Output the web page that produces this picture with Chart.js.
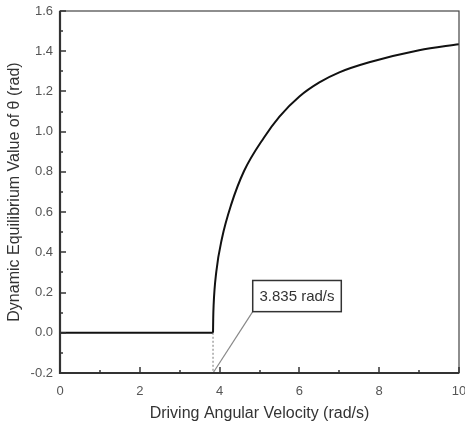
<!DOCTYPE html>
<html>
<head>
<meta charset="utf-8">
<script src="https://cdn.jsdelivr.net/npm/chart.js@4/dist/chart.umd.min.js"></script>
<style>
	html, body { margin: 0; padding: 0; background: #fff; }
	#wrap { width: 465px; height: 430px; }
</style>
</head>
<body>
<div id="wrap"><canvas id="thetaChart" width="465" height="430"></canvas></div>
<script>
// critical driving speed
const criticalOmega = 3.835;

// theta stays at zero below the critical speed
const flatOmega = [0, 3.835];
const flatTheta = [0, 0];

// theta above the critical speed
const curveOmega = [3.835, 3.84, 3.85, 3.917, 4.06, 4.29, 4.61, 5.11, 5.5, 6.0, 6.5, 7.0, 7.75, 9.0, 10.0];
const curveTheta = [0, 0.07, 0.137, 0.303, 0.47, 0.637, 0.803, 0.97, 1.075, 1.175, 1.245, 1.295, 1.345, 1.405, 1.435];

// axis ticks
const xTickValues = [0, 2, 4, 6, 8, 10];
const yTickLabels = ['-0.2', '0.0', '0.2', '0.4', '0.6', '0.8', '1.0', '1.2', '1.4', '1.6'];

const labelText = '3.835 rad/s';

function toPoints(xs, ys) {
	return xs.map(function(x, i) { return { x: x, y: ys[i] }; });
}

// frame, inward ticks, dotted marker and label box
const framePlugin = {
	id: 'frame',
	afterDatasetsDraw: function(chart) {
		const ctx = chart.ctx;
		const a = chart.chartArea;
		const xs = chart.scales.x;
		const ys = chart.scales.y;
		ctx.save();

		// dotted drop line at the critical speed
		const cx = xs.getPixelForValue(criticalOmega);
		ctx.strokeStyle = '#777';
		ctx.lineWidth = 1;
		ctx.setLineDash([2, 2]);
		ctx.beginPath();
		ctx.moveTo(cx, ys.getPixelForValue(0));
		ctx.lineTo(cx, a.bottom);
		ctx.stroke();
		ctx.setLineDash([]);

		// label box with leader line
		const bx1 = xs.getPixelForValue(4.83);
		const bx2 = xs.getPixelForValue(7.05);
		const by1 = ys.getPixelForValue(0.26);
		const by2 = ys.getPixelForValue(0.105);
		ctx.strokeStyle = '#888';
		ctx.lineWidth = 1.2;
		ctx.beginPath();
		ctx.moveTo(cx, a.bottom);
		ctx.lineTo(bx1, by2);
		ctx.stroke();
		ctx.fillStyle = '#fff';
		ctx.fillRect(bx1, by1, bx2 - bx1, by2 - by1);
		ctx.strokeStyle = '#333';
		ctx.lineWidth = 1.5;
		ctx.strokeRect(bx1, by1, bx2 - bx1, by2 - by1);
		ctx.fillStyle = '#333';
		ctx.font = '15px "Liberation Sans", Arial, sans-serif';
		ctx.textAlign = 'center';
		ctx.textBaseline = 'middle';
		ctx.fillText(labelText, (bx1 + bx2) / 2, (by1 + by2) / 2 + 1);

		// frame
		ctx.strokeStyle = '#444';
		ctx.lineWidth = 1.2;
		ctx.strokeRect(a.left, a.top, a.right - a.left, a.bottom - a.top);
		ctx.lineWidth = 2.2;
		ctx.strokeStyle = '#333';
		ctx.beginPath();
		ctx.moveTo(a.left, a.top);
		ctx.lineTo(a.left, a.bottom);
		ctx.lineTo(a.right, a.bottom);
		ctx.stroke();

		// inward ticks, major and minor
		ctx.lineWidth = 1.5;
		for (let v = -0.2; v <= 1.601; v += 0.1) {
			const py = Math.round(ys.getPixelForValue(v));
			const major = Math.round(v * 10) % 2 === 0;
			ctx.beginPath();
			ctx.moveTo(a.left, py);
			ctx.lineTo(a.left + (major ? 6 : 3), py);
			ctx.stroke();
		}
		for (let v = 0; v <= 10; v += 1) {
			const px = Math.round(xs.getPixelForValue(v));
			const major = v % 2 === 0;
			ctx.beginPath();
			ctx.moveTo(px, a.bottom);
			ctx.lineTo(px, a.bottom - (major ? 6 : 3));
			ctx.stroke();
		}
		ctx.restore();
	}
};

const ctx = document.getElementById('thetaChart').getContext('2d');
const chart = new Chart(ctx, {
	type: 'line',
	data: {
		datasets: [
			{
				data: toPoints(flatOmega, flatTheta),
				borderColor: '#111',
				borderWidth: 2,
				pointRadius: 0,
				tension: 0
			},
			{
				data: toPoints(curveOmega, curveTheta),
				borderColor: '#111',
				borderWidth: 2,
				pointRadius: 0,
				cubicInterpolationMode: 'monotone'
			}
		]
	},
	options: {
		responsive: false,
		animation: false,
		layout: { padding: { top: 11, right: 6, left: 0, bottom: 0 } },
		plugins: {
			legend: { display: false },
			tooltip: { enabled: false }
		},
		scales: {
			x: {
				type: 'linear',
				min: 0,
				max: 10,
				afterFit: function(s) {
					s.height = 57;
					s.paddingLeft = 0;
					s.paddingRight = 0;
				},
				afterBuildTicks: function(s) {
					s.ticks = xTickValues.map(function(v) { return { value: v }; });
				},
				grid: { display: false, drawTicks: false },
				border: { display: false },
				ticks: {
					padding: 11,
					color: '#555',
					font: { family: '"Liberation Sans", Arial, sans-serif', size: 13 },
					callback: function(v) { return String(v); }
				},
				title: {
					display: true,
					text: 'Driving Angular Velocity (rad/s)',
					color: '#333',
					padding: { top: 4, bottom: 7 },
					font: { family: '"Liberation Sans", Arial, sans-serif', size: 16 }
				}
			},
			y: {
				type: 'linear',
				min: -0.2,
				max: 1.6,
				afterFit: function(s) {
					s.width = 60;
					s.paddingTop = 0;
					s.paddingBottom = 0;
				},
				afterBuildTicks: function(s) {
					s.ticks = yTickLabels.map(function(t) { return { value: parseFloat(t) }; });
				},
				grid: { display: false, drawTicks: false },
				border: { display: false },
				ticks: {
					padding: 7,
					color: '#555',
					font: { family: '"Liberation Sans", Arial, sans-serif', size: 13 },
					callback: function(v, i) { return yTickLabels[i]; }
				},
				title: {
					display: true,
					text: 'Dynamic Equilibrium Value of θ (rad)',
					color: '#333',
					padding: { top: 5, bottom: 4 },
					font: { family: '"Liberation Sans", Arial, sans-serif', size: 16 }
				}
			}
		}
	},
	plugins: [framePlugin]
});
</script>
</body>
</html>
